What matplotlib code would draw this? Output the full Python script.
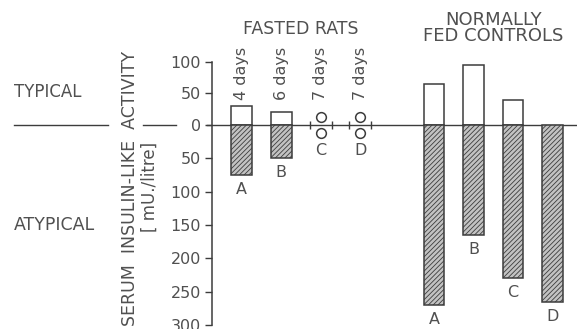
import numpy as np
import matplotlib
matplotlib.use("Agg")
import matplotlib.pyplot as plt
from matplotlib.transforms import blended_transform_factory, offset_copy

plt.rcParams['font.family'] = ['DejaVu Sans']
plt.rcParams['hatch.linewidth'] = 0.6

# serum insulin-like activity, mU/litre
fasted_days = ["4 days", "6 days", "7 days", "7 days"]
fasted_letters = ["A", "B", "C", "D"]
fasted_typical = [30, 20, 0, 0]
fasted_atypical = [75, 50, 0, 0]

control_letters = ["A", "B", "C", "D"]
control_typical = [65, 95, 40, 0]
control_atypical = [270, 165, 230, 265]

y_ticks = [100, 50, 0, -50, -100, -150, -200, -250, -300]

TEXT = "#505050"
LINE = "#3c3c3c"
NEG_STRETCH = 1.06  # the printed scale is a bit taller below zero


def fwd(y):
    y = np.asarray(y, dtype=float)
    return np.where(y < 0, y * NEG_STRETCH, y)


def inv(y):
    y = np.asarray(y, dtype=float)
    return np.where(y < 0, y / NEG_STRETCH, y)


W, H = 577, 329
fig = plt.figure(figsize=(W / 100, H / 100), dpi=100)
ax = fig.add_axes([212 / W, 4 / H, (W - 212) / W, 263 / H])
ax.set_yscale('function', functions=(fwd, inv))
ax.set_ylim(-300, 100)

x_fast = np.arange(4)
x_ctrl = np.arange(4) + 4.87
ax.set_xlim(-0.75, 8.49)
width = 0.53

bar_kw = dict(width=width, linewidth=1.1, edgecolor=LINE, zorder=3)
for xs, typ, atyp in [(x_fast, fasted_typical, fasted_atypical),
                      (x_ctrl, control_typical, control_atypical)]:
    typ = np.array(typ)
    atyp = np.array(atyp)
    m = typ > 0
    ax.bar(xs[m], typ[m], facecolor="white", **bar_kw)
    m = atyp > 0
    ax.bar(xs[m], -atyp[m], facecolor="#c2c2c2", hatch="///////", **bar_kw)

# zero values drawn as small circles on the baseline
zero = [(x, l) for x, t, a, l in zip(x_fast, fasted_typical, fasted_atypical, fasted_letters)
        if t == 0 and a == 0]
for x, _ in zero:
    ax.plot([x - 0.28, x + 0.28], [0, 0], ls="none", marker="|", ms=6, mew=1.0,
            color=LINE, zorder=4)
    for dy in (6, -6):
        tr = offset_copy(ax.transData, fig=fig, x=0, y=dy, units="points")
        ax.plot([x], [0], marker="o", ms=7, mfc="white", mec=LINE, mew=1.1,
                transform=tr, zorder=5, clip_on=False)

# letters under bars
for xs, atyp, letters in [(x_fast, fasted_atypical, fasted_letters),
                          (x_ctrl, control_atypical, control_letters)]:
    for x, a, l in zip(xs, atyp, letters):
        off = -5 if a > 0 else -13
        ax.annotate(l, (x, -a), xytext=(0, off), textcoords="offset points",
                    ha="center", va="top", fontsize=11.5, color=TEXT)

# rotated durations above fasted bars
tb = blended_transform_factory(ax.transData, ax.transAxes)
for x, d in zip(x_fast, fasted_days):
    ax.text(x, 0.856, d, rotation=90, ha="center", va="bottom", fontsize=11.5,
            color=TEXT, transform=tb)

ax.text(x_fast.mean(), 1.125, "FASTED RATS", ha="center", va="center",
        fontsize=12.5, color=TEXT, transform=tb)
ax.text(x_ctrl.mean(), 1.13, "NORMALLY\nFED CONTROLS", ha="center", va="center",
        fontsize=13, color=TEXT, transform=tb, linespacing=0.85,
        multialignment="center")

# axis
for s in ["top", "right", "bottom"]:
    ax.spines[s].set_visible(False)
ax.spines["left"].set_color(LINE)
ax.spines["left"].set_linewidth(1.1)
ax.set_xticks([])
ax.set_yticks(y_ticks)
ax.set_yticklabels([str(abs(v)) for v in y_ticks])
ax.tick_params(axis="y", direction="out", length=5, width=1.0, color=LINE,
               labelcolor=TEXT, labelsize=11.5, pad=3)

# broken baseline across the figure
ax_w = W - 212
for x0, x1 in [(14, 108), (143, 176), (207, W)]:
    ax.axhline(0, xmin=(x0 - 212) / ax_w, xmax=(x1 - 212) / ax_w, color=LINE,
               lw=1.0, clip_on=False, zorder=2)

fig.text(14 / W, 1 - 92 / H, "TYPICAL", ha="left", va="center", fontsize=12, color=TEXT)
fig.text(14 / W, 1 - 225 / H, "ATYPICAL", ha="left", va="center", fontsize=12.5, color=TEXT)
fig.text(130 / W, 1 - 188 / H, "SERUM  INSULIN-LIKE  ACTIVITY", rotation=90,
         ha="center", va="center", fontsize=12.5, color=TEXT)
fig.text(150 / W, 1 - 187 / H, "[ mU./litre]", rotation=90,
         ha="center", va="center", fontsize=12, color=TEXT)

fig.savefig("out.png", dpi=100)
